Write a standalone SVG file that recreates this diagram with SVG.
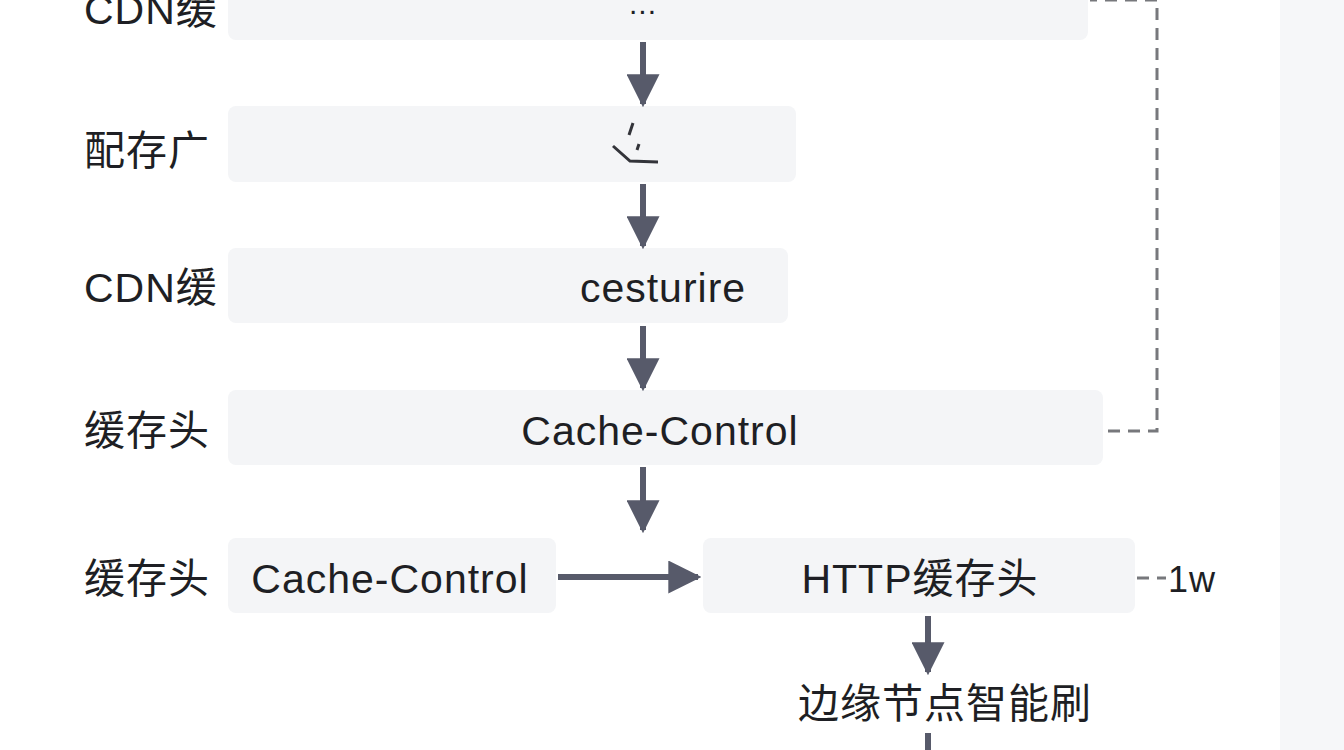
<svg xmlns="http://www.w3.org/2000/svg" width="1344" height="750" viewBox="0 0 1344 750">
<defs>
<style>
.box{fill:#f4f5f7}
.t{font-family:"Liberation Sans","Noto Sans CJK SC",sans-serif;font-size:41px;letter-spacing:1px;fill:#1e1f24}
.c{text-anchor:middle}
.a{stroke:#575a6a;stroke-width:6;fill:none}
.d{stroke:#77787c;stroke-width:3;fill:none;stroke-dasharray:12,8}
</style>
<marker id="ah" viewBox="0 0 10 10" refX="9" refY="5" markerWidth="5.5" markerHeight="5.5" markerUnits="strokeWidth" orient="auto"><path d="M0,0L10,5L0,10z" fill="#575a6a"/></marker>
</defs>
<rect width="1344" height="750" fill="#ffffff"/>
<rect x="1280" y="0" width="64" height="750" fill="#f6f7f9"/>
<g id="n1"><rect class="box" x="228" y="-12" width="860" height="52" rx="8"/><text class="t" x="84" y="24">CDN缓</text><text class="t c" x="643" y="14" style="font-size:30px">...</text></g>
<g id="n2"><rect class="box" x="228" y="106" width="568" height="76" rx="8"/><text class="t" x="84" y="165">配存广</text>
<path d="M633,123L629,135M639,144L637,150M613,146L630,161L658,162" stroke="#33343a" stroke-width="3" fill="none"/></g>
<g id="n3"><rect class="box" x="228" y="248" width="560" height="75" rx="8"/><text class="t" x="84" y="302">CDN缓</text><text class="t c" x="663" y="302">cesturire</text></g>
<g id="n4"><rect class="box" x="228" y="390" width="875" height="75" rx="8"/><text class="t" x="84" y="445">缓存头</text><text class="t c" x="660" y="445">Cache-Control</text></g>
<g id="n5"><rect class="box" x="228" y="538" width="328" height="75" rx="8"/><text class="t" x="84" y="593">缓存头</text><text class="t c" x="390" y="593">Cache-Control</text></g>
<g id="n6"><rect class="box" x="703" y="538" width="432" height="75" rx="8"/><text class="t c" x="920" y="593">HTTP缓存头</text><text class="t" x="1168" y="592" style="font-size:36px">1w</text></g>
<g id="n7"><text class="t c" x="945" y="718">边缘节点智能刷</text></g>
<g id="connectors">
<line class="a" x1="643" y1="42" x2="643" y2="104" marker-end="url(#ah)"/>
<line class="a" x1="643" y1="184" x2="643" y2="246" marker-end="url(#ah)"/>
<line class="a" x1="643" y1="326" x2="643" y2="388" marker-end="url(#ah)"/>
<line class="a" x1="643" y1="467" x2="643" y2="530" marker-end="url(#ah)"/>
<line class="a" x1="558" y1="577" x2="698" y2="577" stroke-width="4" marker-end="url(#ah)"/>
<line class="a" x1="928" y1="616" x2="928" y2="672" marker-end="url(#ah)"/>
<line class="a" x1="928" y1="733" x2="928" y2="750"/>
<path class="d" d="M1108,431H1157V0H1090"/>
<path class="d" d="M1137,578H1166"/>
</g>
</svg>
